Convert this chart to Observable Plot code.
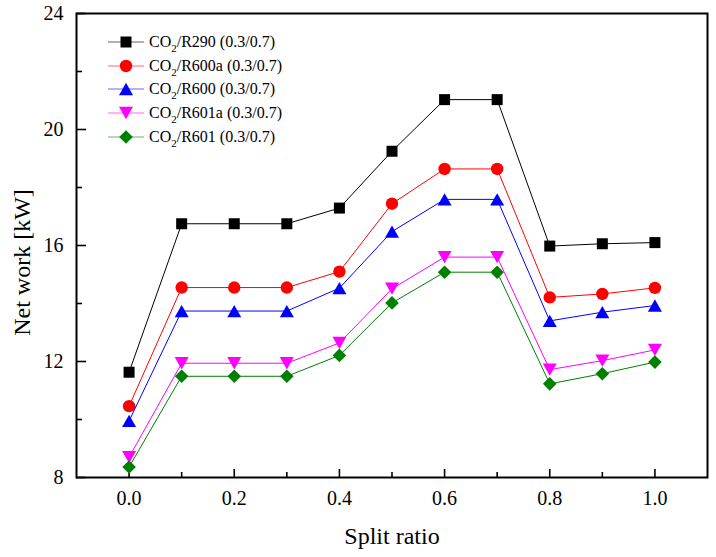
<!DOCTYPE html>
<html><head><meta charset="utf-8">
<script src="https://cdn.jsdelivr.net/npm/d3@7"></script>
<script src="https://cdn.jsdelivr.net/npm/@observablehq/plot@0.6"></script>
<style>
body{margin:0;background:#fff;}
#wrap{position:relative;width:716px;height:557px;font-family:"Liberation Serif","Times New Roman",serif;}
#wrap svg{display:block;}
.lg{position:absolute;left:108px;height:24px;display:flex;align-items:center;font-size:16px;color:#000;white-space:nowrap;}
.lg svg{margin-right:5px;}
.sub{font-size:11px;position:relative;top:5px;}
</style></head><body><div id="wrap"></div>
<script>
// data
const splitRatio = [0.0, 0.1, 0.2, 0.3, 0.4, 0.5, 0.6, 0.7, 0.8, 0.9, 1.0];
const r290  = [11.63, 16.75, 16.75, 16.75, 17.29, 19.25, 21.03, 21.03, 15.98, 16.06, 16.10];
const r600a = [10.46, 14.55, 14.55, 14.55, 15.10, 17.44, 18.64, 18.64, 14.21, 14.33, 14.54];
const r600  = [ 9.95, 13.74, 13.74, 13.74, 14.53, 16.48, 17.59, 17.59, 13.40, 13.70, 13.93];
const r601a = [ 8.70, 11.94, 11.94, 11.94, 12.64, 14.51, 15.60, 15.60, 11.72, 12.03, 12.40];
const r601  = [ 8.36, 11.49, 11.49, 11.49, 12.21, 14.02, 15.08, 15.08, 11.23, 11.58, 11.98];
const seriesNames = ["R290", "R600a", "R600", "R601a", "R601"];
const seriesLabelSuffix = " (0.3/0.7)";
const xMajorTicks = [0.0, 0.2, 0.4, 0.6, 0.8, 1.0];
const xMinorTicks = [0.1, 0.3, 0.5, 0.7, 0.9];
const yMajorTicks = [8, 12, 16, 20, 24];
const yMinorTicks = [10, 14, 18, 22];

const seriesValues = [r290, r600a, r600, r601a, r601];
const colors = ["#000000", "#ff0000", "#0000ff", "#ff00ff", "#008000"];
const FONT = '"Liberation Serif","Times New Roman",serif';

// custom symbols (size = r*r*PI)
const rad = s => Math.sqrt(s / Math.PI);
const symbols = [
  {draw(c, s){ const r = rad(s); c.moveTo(-r,-r); c.lineTo(r,-r); c.lineTo(r,r); c.lineTo(-r,r); c.closePath(); }},
  {draw(c, s){ const r = rad(s); c.moveTo(r,0); c.arc(0,0,r,0,2*Math.PI); }},
  {draw(c, s){ const r = rad(s); const h = r*0.88; c.moveTo(0,-h); c.lineTo(r,h); c.lineTo(-r,h); c.closePath(); }},
  {draw(c, s){ const r = rad(s); const h = r*0.88; c.moveTo(0,h); c.lineTo(r,-h); c.lineTo(-r,-h); c.closePath(); }},
  {draw(c, s){ const r = rad(s); c.moveTo(0,-r); c.lineTo(r,0); c.lineTo(0,r); c.lineTo(-r,0); c.closePath(); }}
];
const symR = [5.5, 6.2, 7, 7, 6.8];

const rows = [];
seriesValues.forEach((vals, i) => vals.forEach((v, j) => rows.push({s: i, x: splitRatio[j], y: v})));

const marks = [];
seriesValues.forEach((vals, i) => {
  const d = rows.filter(r => r.s === i);
  marks.push(Plot.line(d, {x: "x", y: "y", stroke: colors[i], strokeWidth: 1}));
  marks.push(Plot.dot(d, {x: "x", y: "y", fill: colors[i], stroke: "none", symbol: symbols[i], r: symR[i]}));
});

const chart = Plot.plot({
  width: 716, height: 557,
  marginLeft: 76, marginRight: 9, marginTop: 13, marginBottom: 80,
  style: {fontFamily: FONT, fontSize: "20px", background: "#fff", color: "#000"},
  x: {domain: [-0.1, 1.1]},
  y: {domain: [8, 24]},
  marks: [
    Plot.axisX({ticks: xMajorTicks, tickSize: -8, tickPadding: 21, tickFormat: d3.format(".1f"), strokeWidth: 1.6, fontSize: 20, fontFamily: FONT, label: null}),
    Plot.axisX({ticks: xMinorTicks, tickSize: -5, tickFormat: () => "", strokeWidth: 1.6, label: null}),
    Plot.axisY({ticks: yMajorTicks, tickSize: -10, tickPadding: 23, tickFormat: d3.format("d"), strokeWidth: 1.6, fontSize: 20, fontFamily: FONT, label: null}),
    Plot.axisY({ticks: yMinorTicks, tickSize: -6, tickFormat: () => "", strokeWidth: 1.6, label: null}),
    ...marks,
    Plot.frame({stroke: "#000", strokeWidth: 2}),
    Plot.text(["Net work [kW]"], {frameAnchor: "left", text: d => d, rotate: -90, textAnchor: "middle", lineAnchor: "middle", dx: -54, dy: 17, fontSize: 24, fontFamily: FONT}),
    Plot.text(["Split ratio"], {frameAnchor: "bottom", text: d => d, textAnchor: "middle", lineAnchor: "middle", dy: 59, fontSize: 24, fontFamily: FONT})
  ]
});
const wrap = document.getElementById("wrap");
wrap.appendChild(chart);

// legend
const rowCenters0 = 41.7, rowStep = 23.8;
seriesNames.forEach((name, i) => {
  const div = document.createElement("div");
  div.className = "lg";
  div.style.top = (rowCenters0 + i * rowStep - 12) + "px";
  const sw = d3.create("svg").attr("width", 36).attr("height", 20);
  sw.append("line").attr("x1", 0).attr("x2", 36).attr("y1", 10).attr("y2", 10).attr("stroke", colors[i]).attr("stroke-width", 1).attr("stroke-opacity", 0.6);
  const p = d3.path();
  symbols[i].draw(p, symR[i] * symR[i] * Math.PI);
  sw.append("path").attr("d", p.toString()).attr("transform", "translate(18,10)").attr("fill", colors[i]);
  div.appendChild(sw.node());
  const t = document.createElement("span");
  t.innerHTML = 'CO<span class="sub">2</span>/' + name + seriesLabelSuffix;
  div.appendChild(t);
  wrap.appendChild(div);
});
</script></body></html>
